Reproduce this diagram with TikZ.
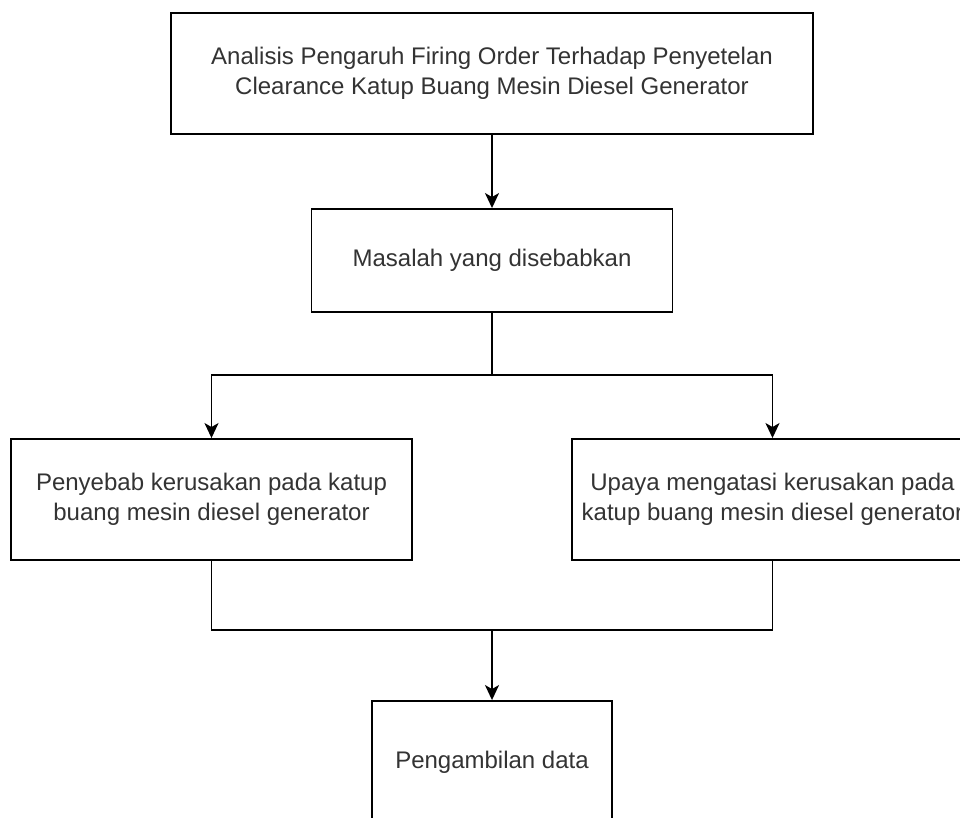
\documentclass[tikz,border=0pt]{standalone}
\usepackage{fontspec}
\setmainfont{Liberation Sans}
\usetikzlibrary{arrows.meta}
\begin{document}
\begin{tikzpicture}[x=1pt,y=-1pt,
  box/.style={draw=black, line width=1.9pt, fill=white, align=center,
    inner sep=0pt, text=black!80,
    font=\fontsize{24pt}{30pt}\selectfont},
  link/.style={draw=black, line width=1.9pt},
  arrowlink/.style={link, -{Stealth[length=15pt,width=14pt,inset=4pt]}}]
  \useasboundingbox[fill=white] (0,0) rectangle (960,817);

  % boxes
  \node[box, minimum width=642pt, minimum height=121pt] (top) at (492,73.5)
    {Analisis Pengaruh Firing Order Terhadap Penyetelan\\Clearance Katup Buang Mesin Diesel Generator};
  \node[box, minimum width=361pt, minimum height=103pt] (mid) at (492,260.5)
    {Masalah yang disebabkan};
  \node[box, minimum width=401pt, minimum height=121pt] (left) at (211.5,499.5)
    {Penyebab kerusakan pada katup\\buang mesin diesel generator};
  \node[box, minimum width=401pt, minimum height=121pt] (right) at (772.5,499.5)
    {Upaya mengatasi kerusakan pada\\katup buang mesin diesel generator};
  \node[box, minimum width=240pt, minimum height=122pt] (data) at (492,762)
    {Pengambilan data};

  % junction points
  \coordinate (split) at (492,375);
  \coordinate (merge) at (492,630);

  % connectors
  \draw[arrowlink] (top.south) -- (mid.north);
  \draw[link] (mid.south) -- (split);
  \draw[arrowlink] (split) -| (left.north);
  \draw[arrowlink] (split) -| (right.north);
  \draw[link] (left.south) |- (merge);
  \draw[link] (right.south) |- (merge);
  \draw[arrowlink] (merge) -- (data.north);
\end{tikzpicture}
\end{document}
